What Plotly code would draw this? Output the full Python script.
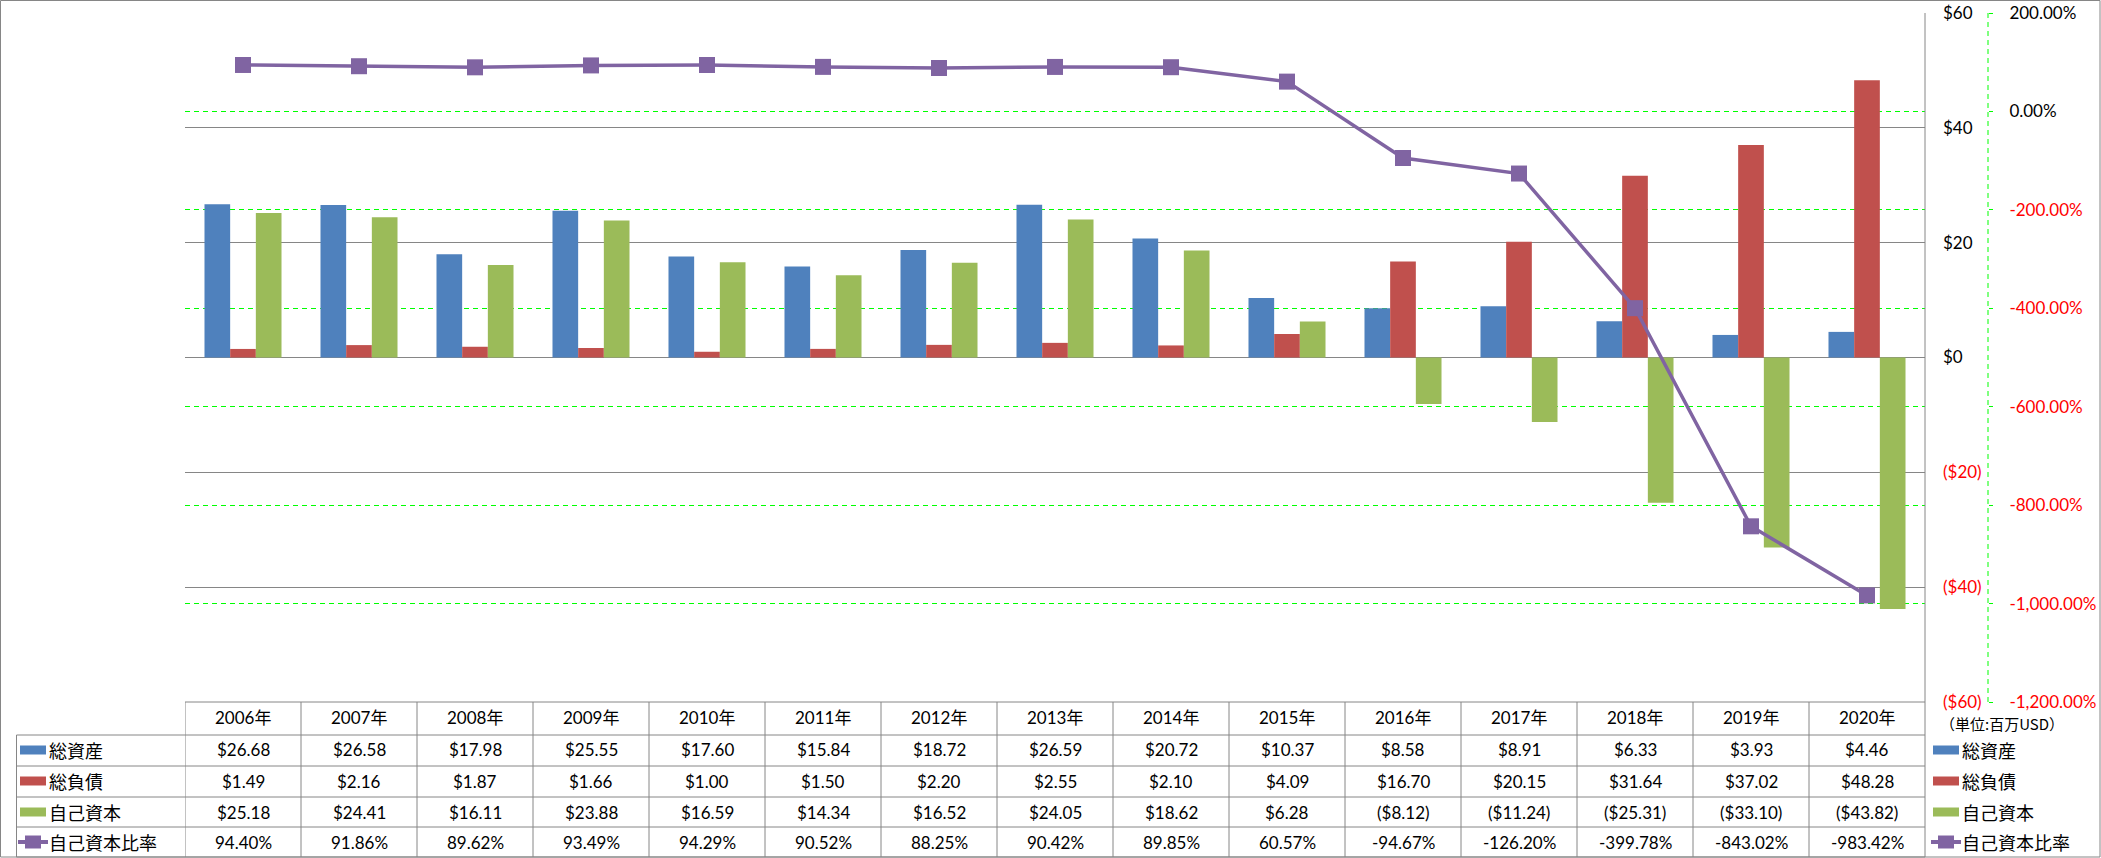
import plotly.graph_objects as go

# ---------------- data ----------------
years = ["2006年", "2007年", "2008年", "2009年", "2010年", "2011年", "2012年", "2013年",
         "2014年", "2015年", "2016年", "2017年", "2018年", "2019年", "2020年"]
total_assets = [26.68, 26.58, 17.98, 25.55, 17.60, 15.84, 18.72, 26.59, 20.72, 10.37,
                8.58, 8.91, 6.33, 3.93, 4.46]
total_liabilities = [1.49, 2.16, 1.87, 1.66, 1.00, 1.50, 2.20, 2.55, 2.10, 4.09,
                     16.70, 20.15, 31.64, 37.02, 48.28]
equity = [25.18, 24.41, 16.11, 23.88, 16.59, 14.34, 16.52, 24.05, 18.62, 6.28,
          -8.12, -11.24, -25.31, -33.10, -43.82]
equity_ratio = [94.40, 91.86, 89.62, 93.49, 94.29, 90.52, 88.25, 90.42, 89.85, 60.57,
                -94.67, -126.20, -399.78, -843.02, -983.42]
series_names = ["総資産", "総負債", "自己資本", "自己資本比率"]
y_ticks = [60, 40, 20, 0, -20, -40, -60]
y2_ticks = [200, 0, -200, -400, -600, -800, -1000, -1200]
unit_label = "（単位:百万USD）"

# ---------------- style ----------------
C_BLUE = "#4F81BD"
C_RED = "#C0504D"
C_GREEN = "#9BBB59"
C_PURPLE = "#8064A2"
C_GRID = "#868686"
C_DASH = "#00FF00"
C_NEG = "#FF0000"
FONT = "Lato, 'Noto Sans CJK JP', sans-serif"
CJK = "'Noto Sans CJK JP', sans-serif"

W, H = 2101, 858
L, RAX, T, B = 185, 1988, 13, 702
PLOT_R = 1925


def px(x):
    return (x - L) / (RAX - L)


def py(y):
    return (B - y) / (B - T)


def money(v):
    return f"(${abs(v):.2f})" if v < 0 else f"${v:.2f}"


def money_tick(v):
    return f"<span style='color:{C_NEG}'>(${abs(v)})</span>" if v < 0 else f"${v}"


def pct(v):
    return f"{v:,.2f}%"


def pct_tick(v):
    s = f"{v:,.2f}%"
    return f"<span style='color:{C_NEG}'>{s}</span>" if v < 0 else s


fig = go.Figure()
fig.add_trace(go.Bar(x=years, y=total_assets, name=series_names[0], marker_color=C_BLUE,
                     marker_line_width=0))
fig.add_trace(go.Bar(x=years, y=total_liabilities, name=series_names[1], marker_color=C_RED,
                     marker_line_width=0))
fig.add_trace(go.Bar(x=years, y=equity, name=series_names[2], marker_color=C_GREEN,
                     marker_line_width=0))
fig.add_trace(go.Scatter(x=years, y=equity_ratio, name=series_names[3], yaxis="y2",
                         mode="lines+markers",
                         line=dict(color=C_PURPLE, width=3.5),
                         marker=dict(symbol="square", size=16, color=C_PURPLE,
                                     line=dict(width=0))))

shapes = []
annotations = []

# outer border
shapes.append(dict(type="rect", xref="paper", yref="paper",
                   x0=px(0.5), x1=px(2100), y0=py(857), y1=py(0.5),
                   line=dict(color=C_GRID, width=1), fillcolor="rgba(0,0,0,0)", layer="below"))
# right plot edge (primary axis line extended through table)
shapes.append(dict(type="line", xref="paper", yref="paper",
                   x0=px(PLOT_R), x1=px(PLOT_R), y0=py(T), y1=py(857),
                   line=dict(color=C_GRID, width=1)))
# secondary axis dashed line
shapes.append(dict(type="line", xref="paper", yref="paper",
                   x0=1, x1=1, y0=py(T), y1=py(B),
                   line=dict(color=C_DASH, width=1, dash="5px,4px")))

# data table grid
row_lines = [735, 766, 797, 827, 857]
shapes.append(dict(type="line", xref="paper", yref="paper", x0=px(L), x1=px(PLOT_R),
                   y0=py(B), y1=py(B), line=dict(color=C_GRID, width=1)))
for yl in row_lines:
    shapes.append(dict(type="line", xref="paper", yref="paper", x0=px(16.5), x1=px(PLOT_R),
                       y0=py(yl), y1=py(yl), line=dict(color=C_GRID, width=1)))
shapes.append(dict(type="line", xref="paper", yref="paper", x0=px(16.5), x1=px(16.5),
                   y0=py(735), y1=py(857), line=dict(color=C_GRID, width=1)))
for k in range(len(years)):
    shapes.append(dict(type="line", xref="x", yref="paper", x0=k - 0.5, x1=k - 0.5,
                       y0=py(B), y1=py(857), line=dict(color=C_GRID, width=1)))

# table text
header_c = 718
row_c = [750, 781, 812, 842]
rows = [[money(v) for v in total_assets],
        [money(v) for v in total_liabilities],
        [money(v) for v in equity],
        [pct(v) for v in equity_ratio]]
for i, yr in enumerate(years):
    annotations.append(dict(xref="x", yref="paper", x=yr, y=py(header_c), text=yr,
                            showarrow=False, xanchor="center", yanchor="middle",
                            font=dict(size=17, family=FONT, color="black")))
    for r, vals in enumerate(rows):
        annotations.append(dict(xref="x", yref="paper", x=yr, y=py(row_c[r]), text=vals[i],
                                showarrow=False, xanchor="center", yanchor="middle",
                                font=dict(size=17, family=FONT, color="black")))


def legend_key(x0, yc, idx, name):
    colors = [C_BLUE, C_RED, C_GREEN, C_PURPLE]
    if idx < 3:
        shapes.append(dict(type="rect", xref="paper", yref="paper",
                           x0=px(x0), x1=px(x0 + 26), y0=py(yc + 4.5), y1=py(yc - 4.5),
                           fillcolor=colors[idx], line=dict(width=0)))
    else:
        shapes.append(dict(type="line", xref="paper", yref="paper",
                           x0=px(x0 - 2), x1=px(x0 + 28), y0=py(yc), y1=py(yc),
                           line=dict(color=C_PURPLE, width=4)))
        shapes.append(dict(type="rect", xref="paper", yref="paper",
                           x0=px(x0 + 5), x1=px(x0 + 21), y0=py(yc + 6.5), y1=py(yc - 6.5),
                           fillcolor=C_PURPLE, line=dict(width=0)))
    annotations.append(dict(xref="paper", yref="paper", x=px(x0 + 27), y=py(yc), text=name,
                            showarrow=False, xanchor="left", yanchor="middle",
                            font=dict(size=18, family=CJK, color="black")))


for r, name in enumerate(series_names):
    legend_key(20, row_c[r], r, name)
    legend_key(1933, row_c[r], r, name)

annotations.append(dict(xref="paper", yref="paper", x=px(1938), y=py(723), text=unit_label,
                        showarrow=False, xanchor="left", yanchor="middle",
                        font=dict(size=15, family=CJK, color="black")))

fig.update_layout(
    width=W, height=H, autosize=False,
    margin=dict(l=L, r=W - RAX, t=T, b=H - B, pad=0, autoexpand=False),
    paper_bgcolor="white", plot_bgcolor="white",
    font=dict(family=FONT, size=17, color="black"),
    showlegend=False,
    barmode="group", bargap=0.336, bargroupgap=0,
    xaxis=dict(type="category", domain=[0, (PLOT_R - L) / (RAX - L)], range=[-0.5, 14.5],
               showticklabels=False, showgrid=False, zeroline=False, showline=False, ticks="",
               automargin=False),
    yaxis=dict(range=[-60, 60], side="right", tickvals=y_ticks,
               ticktext=[money_tick(v) for v in y_ticks],
               showgrid=True, gridcolor=C_GRID, gridwidth=1, zeroline=False,
               showline=False, ticks="", ticklabelstandoff=17, automargin=False,
               tickfont=dict(size=17, family=FONT)),
    yaxis2=dict(range=[-1200, 200], overlaying="y", side="right", anchor="free", position=1,
                tickvals=y2_ticks, ticktext=[pct_tick(v) for v in y2_ticks],
                showgrid=True, gridcolor=C_DASH, gridwidth=1, griddash="5px,4px",
                zeroline=False, showline=False, ticks="outside", ticklen=4,
                tickcolor=C_DASH, ticklabelstandoff=13, automargin=False,
                tickfont=dict(size=17, family=FONT)),
    shapes=shapes,
    annotations=annotations,
)

fig.write_html("out.html", config={"displayModeBar": False},
               post_script="document.body.style.margin='0';document.body.style.overflow='hidden';")
